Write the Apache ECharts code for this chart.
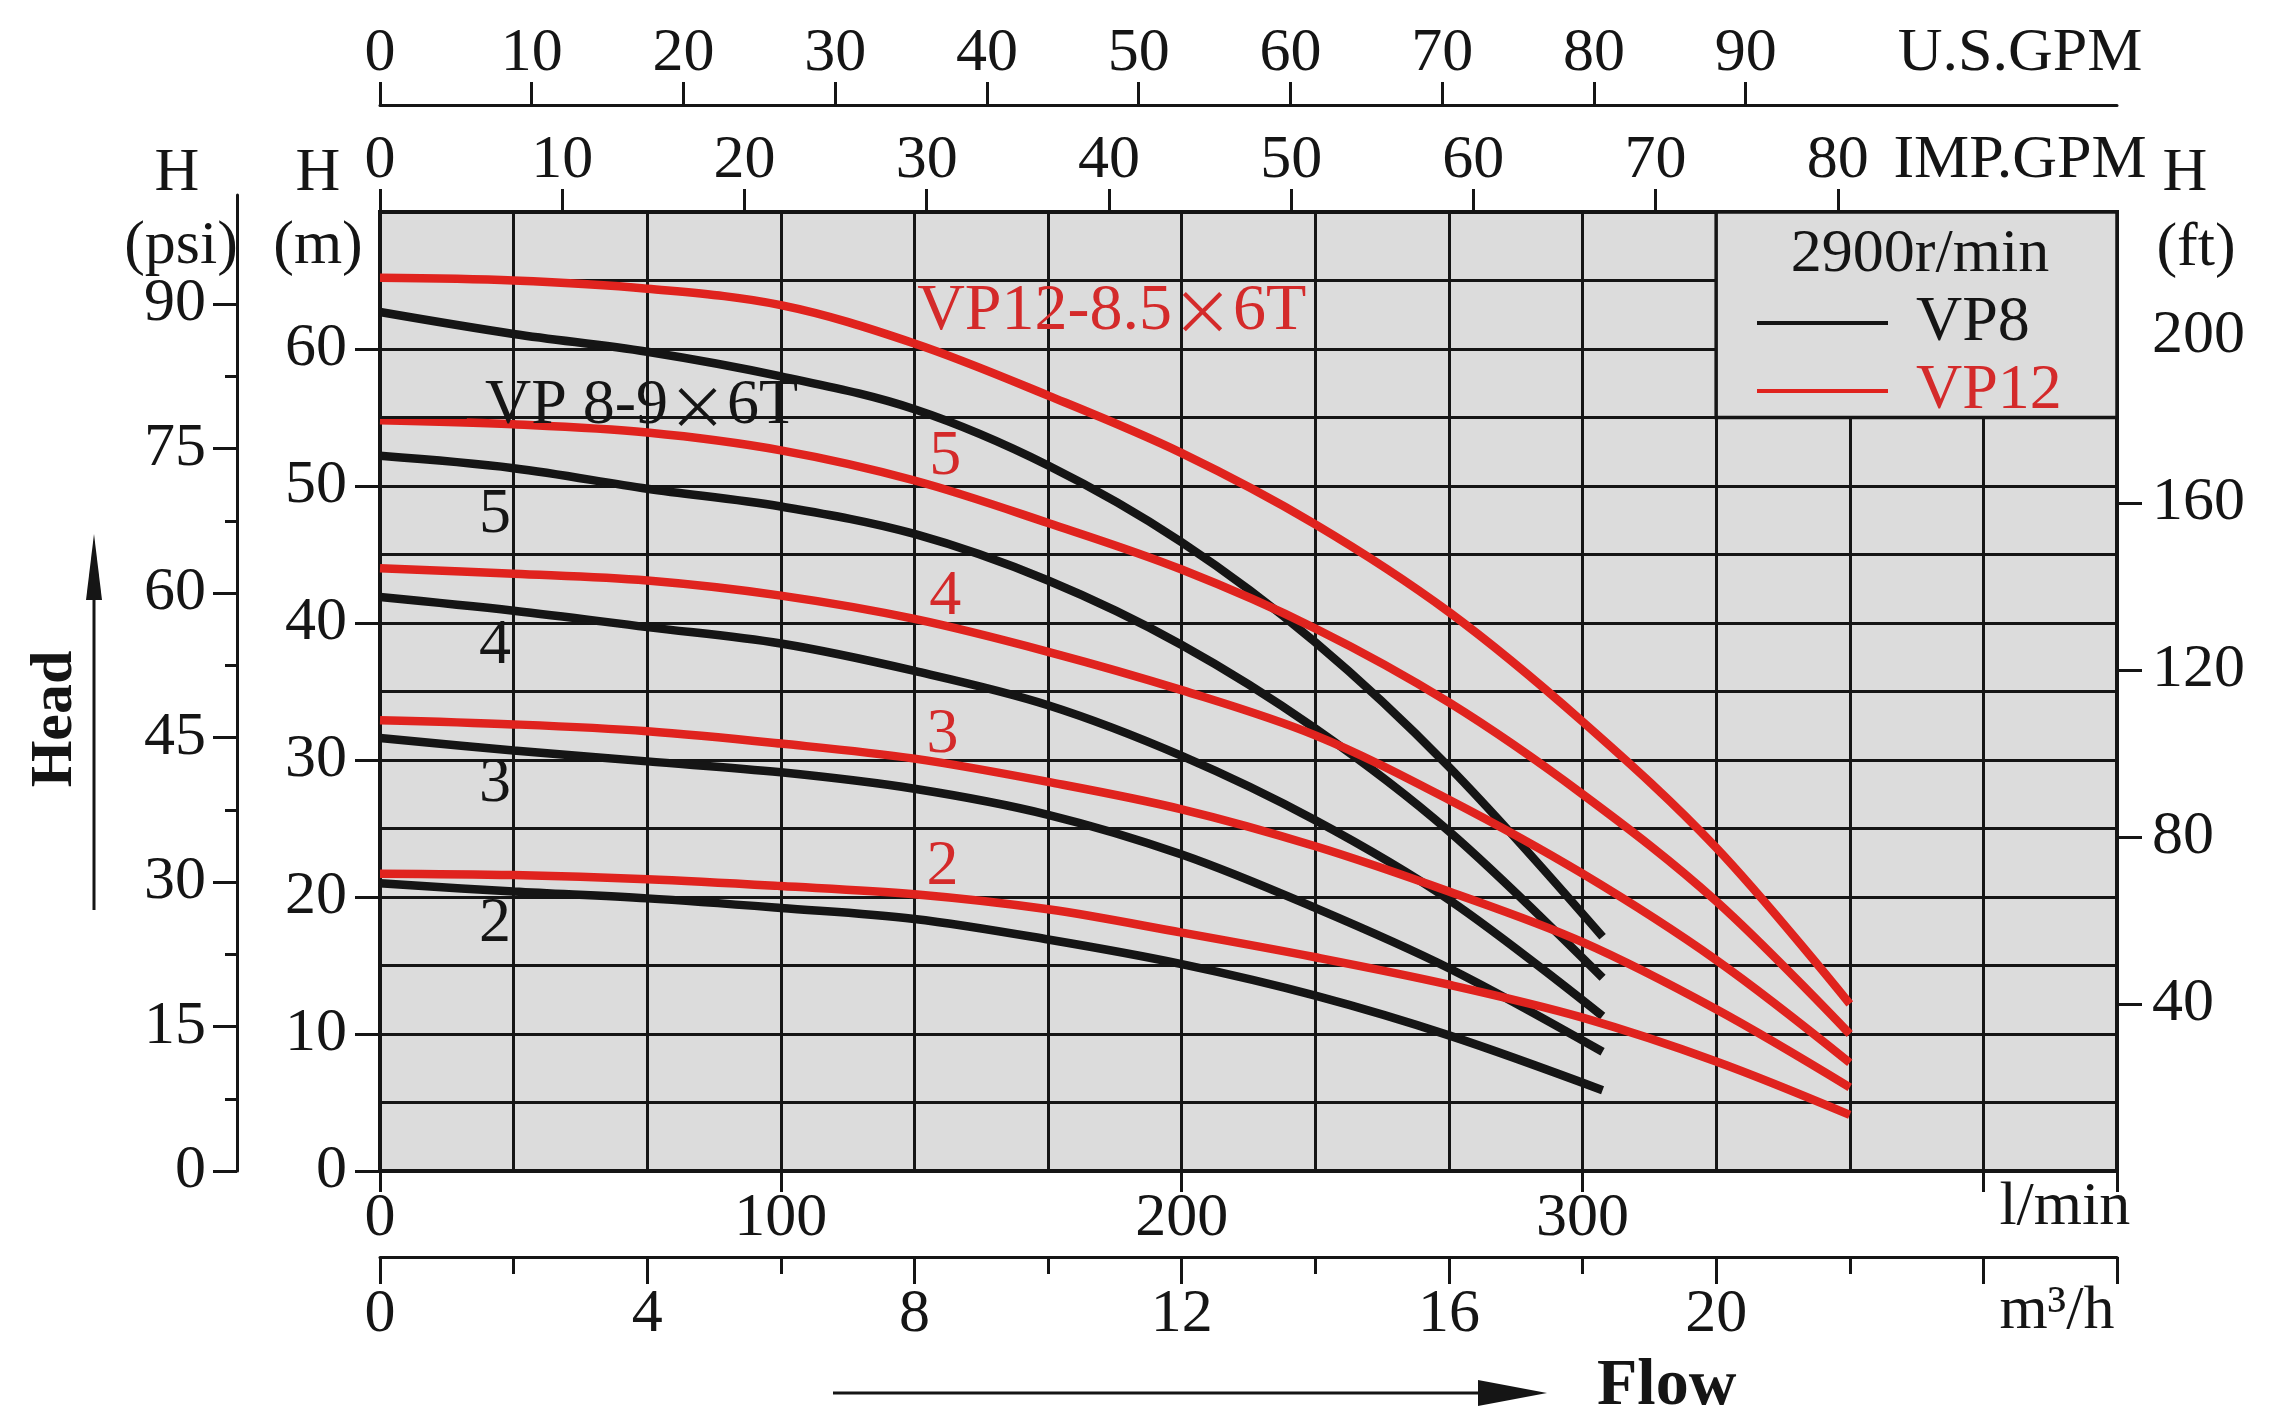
<!DOCTYPE html>
<html>
<head>
<meta charset="utf-8">
<script src="https://cdn.jsdelivr.net/npm/echarts@6.0.0/dist/echarts.min.js"></script>
<style>
  html, body { margin: 0; padding: 0; background: #ffffff; }
  #chart { width: 2294px; height: 1423px; }
</style>
</head>
<body>
<div id="chart"></div>
<script>
// ---------------- data (flow in m³/h, head in m) ----------------
const flowVP8 = [0, 2, 4, 6, 8, 10, 12, 14, 16, 18.3];
const vp8_6T = [62.7, 61.1, 59.8, 58.0, 55.6, 51.5, 45.9, 38.6, 29.5, 17.1];
const vp8_5  = [52.2, 51.3, 49.8, 48.5, 46.5, 43.1, 38.4, 32.3, 24.8, 14.1];
const vp8_4  = [41.9, 40.9, 39.7, 38.5, 36.5, 34.0, 30.3, 25.6, 19.8, 11.3];
const vp8_3  = [31.6, 30.7, 29.9, 29.1, 27.9, 26.0, 23.1, 19.2, 14.8, 8.7];
const vp8_2  = [21.0, 20.4, 19.9, 19.2, 18.4, 16.9, 15.1, 12.8, 9.9, 5.9];

const flowVP12 = [0, 2, 4, 6, 8, 10, 12, 14, 16, 18, 20, 22];
const vp12_6T = [65.2, 65.0, 64.4, 63.2, 60.4, 56.6, 52.4, 47.2, 40.8, 32.8, 23.6, 12.2];
const vp12_5  = [54.8, 54.5, 53.9, 52.6, 50.4, 47.3, 43.9, 39.6, 34.2, 27.5, 19.7, 10.0];
const vp12_4  = [44.0, 43.6, 43.1, 42.0, 40.3, 37.9, 35.1, 31.8, 27.1, 21.7, 15.4, 7.9];
const vp12_3  = [32.9, 32.6, 32.1, 31.2, 30.1, 28.4, 26.4, 23.7, 20.4, 16.7, 11.8, 6.1];
const vp12_2  = [21.7, 21.6, 21.3, 20.8, 20.2, 19.1, 17.4, 15.6, 13.6, 11.2, 8.0, 4.1];

// curve annotations: [text, flow m³/h, head m]
const vp8StageLabels  = [['5', 1.72, 47.9], ['4', 1.72, 38.3], ['3', 1.72, 28.2], ['2', 1.72, 18.0]];
const vp12StageLabels = [['5', 8.46, 52.1], ['4', 8.46, 41.9], ['3', 8.42, 31.8], ['2', 8.42, 22.2]];
const vp8ModelLabel  = ['VP 8-9{x|×}6T', 1.57, 55.8];
const vp12ModelLabel = ['VP12-8.5{x|×}6T', 8.04, 62.7];
const vp8Leaders = [[[0, 55.0], [1.3, 55.0]], [[6.3, 55.0], [8.05, 55.0]]];
const legendBox = [[20, 55], [26, 70]];

// tick labels
const mTicks = [0, 10, 20, 30, 40, 50, 60];
const psiLabels = [0, 15, 30, 45, 60, 75, 90];
const psiMinor = [7.5, 22.5, 37.5, 52.5, 67.5, 82.5];
const ftLabels = [40, 80, 120, 160, 200];
const ftTicks = [40, 80, 120, 160];
const impTicks = [0, 10, 20, 30, 40, 50, 60, 70, 80];
const usTicks = [0, 10, 20, 30, 40, 50, 60, 70, 80, 90];
const lpmLabels = [0, 100, 200, 300];
const m3hLabels = [0, 4, 8, 12, 16, 20];

// ---------------- unit conversions ----------------
const LPM = 1000 / 60;        // l/min per m³/h
const IMP = 4.54609, USG = 3.78541, PSI_M = 0.70307, FT_M = 0.3048;
const X_MAX = 26, Y_MAX = 70;

const FONT = '"Liberation Serif","Times New Roman",serif';
const CJK = '"Noto Sans CJK SC","Noto Sans CJK JP",sans-serif';
const BLACK = '#151515', RED = '#e0231e', RED_TEXT = '#d42a2a', BG = '#dcdcdc';

const G = { left: 380, top: 212, width: 1737, height: 959 };

const lbl = (extra) => Object.assign({ fontFamily: FONT, fontSize: 62, color: BLACK }, extra);
const tickStyle = { color: BLACK, width: 3 };
const noLine = { show: false, onZero: false };
const gridBase = { containLabel: false, outerBoundsMode: 'none' };

function curve(name, flows, heads, color) {
  return {
    type: 'line', name: name, xAxisIndex: 0, yAxisIndex: 0,
    data: flows.map((q, i) => [q, heads[i]]),
    smooth: 0.35, symbol: 'none', showSymbol: false,
    lineStyle: { color: color, width: 8.5 },
    itemStyle: { color: color },
    emphasis: { disabled: true }, silent: true, z: 3
  };
}
function labelSeries(name, items, color, size, pos) {
  return {
    type: 'scatter', name: name, xAxisIndex: 0, yAxisIndex: 0,
    data: items.map(d => ({ value: [d[1], d[2]], name: d[0] })),
    symbolSize: 0.1, itemStyle: { color: 'rgba(0,0,0,0)', opacity: 1 },
    emphasis: { disabled: true }, silent: true, z: 4,
    label: { show: true, position: pos, distance: 0, formatter: p => p.name, opacity: 1,
             fontFamily: FONT, fontSize: size, color: color,
             rich: { x: { fontFamily: CJK, fontSize: Math.round(size * 0.92), color: color } } }
  };
}

const chart = echarts.init(document.getElementById('chart'), null, { renderer: 'canvas' });

const option = {
  animation: false,
  backgroundColor: '#ffffff',
  grid: [
    Object.assign({ show: true, backgroundColor: BG, borderColor: BLACK, borderWidth: 4 }, gridBase, G), // 0 main
    Object.assign({ left: G.left, width: G.width, top: 105, height: 1 }, gridBase),                      // 1 US GPM
    Object.assign({ left: G.left, width: G.width, top: 1256, height: 1 }, gridBase),                     // 2 m³/h
    Object.assign({ left: 237, width: 1, top: 195, height: 976 }, gridBase),                             // 3 psi
    Object.assign({ left: G.left, width: G.width, top: G.top, height: 1 }, gridBase),                    // 4 IMP GPM
    Object.assign({ left: G.left + G.width - 1, width: 1, top: G.top, height: G.height }, gridBase)      // 5 ft
  ],
  xAxis: [
    { gridIndex: 0, type: 'value', position: 'bottom', min: 0, max: X_MAX, interval: 2,
      axisLine: noLine, axisTick: { show: false }, axisLabel: { show: false },
      splitLine: { show: true, lineStyle: { color: BLACK, width: 3 } } },
    { gridIndex: 0, type: 'value', position: 'bottom', min: 0, max: X_MAX * LPM, interval: 100,
      axisLine: { show: true, onZero: false, lineStyle: { color: BLACK, width: 4 } },
      axisTick: { show: true, length: 21, lineStyle: tickStyle },
      axisLabel: lbl({ margin: 17, customValues: lpmLabels }),
      splitLine: { show: false } },
    { gridIndex: 4, type: 'value', position: 'top', min: 0, max: X_MAX * LPM / IMP, interval: 10,
      axisLine: noLine,
      axisTick: { show: true, length: 23, customValues: impTicks, lineStyle: tickStyle },
      axisLabel: lbl({ margin: 20, customValues: impTicks.concat([90]),
                       formatter: v => (v === 90 ? 'IMP.GPM' : String(v)) }),
      splitLine: { show: false } },
    { gridIndex: 1, type: 'value', position: 'top', min: 0, max: X_MAX * LPM / USG, interval: 10,
      axisLine: { show: true, onZero: false, lineStyle: { color: BLACK, width: 3 } },
      axisTick: { show: true, length: 23, customValues: usTicks, lineStyle: tickStyle },
      axisLabel: lbl({ margin: 20, customValues: usTicks.concat([90 * IMP / USG]),
                       formatter: v => (v > 95 ? 'U.S.GPM' : String(v)) }),
      splitLine: { show: false } },
    { gridIndex: 2, type: 'value', position: 'bottom', min: 0, max: X_MAX, interval: 4,
      axisLine: { show: true, onZero: false, lineStyle: { color: BLACK, width: 3 } },
      axisTick: { show: true, length: 27, lineStyle: tickStyle },
      axisLabel: lbl({ margin: 27, customValues: m3hLabels }),
      splitLine: { show: false } },
    { gridIndex: 2, type: 'value', position: 'bottom', min: 0, max: X_MAX, interval: 2,
      axisLine: noLine, axisTick: { show: true, length: 17, lineStyle: tickStyle },
      axisLabel: { show: false }, splitLine: { show: false } },
    { gridIndex: 3, type: 'value', show: false, min: 0, max: 1 },
    { gridIndex: 5, type: 'value', show: false, min: 0, max: 1 }
  ],
  yAxis: [
    { gridIndex: 0, type: 'value', position: 'left', min: 0, max: Y_MAX, interval: 5,
      axisLine: noLine, axisTick: { show: false }, axisLabel: { show: false },
      splitLine: { show: true, lineStyle: { color: BLACK, width: 3 } } },
    { gridIndex: 0, type: 'value', position: 'left', min: 0, max: Y_MAX, interval: 10,
      axisLine: { show: true, onZero: false, lineStyle: { color: BLACK, width: 4 } },
      axisTick: { show: true, length: 25, customValues: mTicks, lineStyle: tickStyle },
      axisLabel: lbl({ margin: 33, customValues: mTicks }),
      splitLine: { show: false } },
    { gridIndex: 5, type: 'value', position: 'right', min: 0, max: Y_MAX / FT_M, interval: 40,
      axisLine: noLine,
      axisTick: { show: true, length: 25, customValues: ftTicks, lineStyle: tickStyle },
      axisLabel: lbl({ margin: 35, customValues: ftLabels }),
      splitLine: { show: false } },
    { gridIndex: 1, type: 'value', show: false, min: 0, max: 1 },
    { gridIndex: 2, type: 'value', show: false, min: 0, max: 1 },
    { gridIndex: 3, type: 'value', position: 'left', min: 0, max: (976 / 959) * Y_MAX / PSI_M, interval: 15,
      axisLine: { show: true, onZero: false, lineStyle: { color: BLACK, width: 3 } },
      axisTick: { show: true, length: 24, customValues: psiLabels, lineStyle: tickStyle },
      axisLabel: lbl({ margin: 31, customValues: psiLabels }),
      splitLine: { show: false } },
    { gridIndex: 3, type: 'value', position: 'left', min: 0, max: (976 / 959) * Y_MAX / PSI_M, interval: 7.5,
      axisLine: noLine,
      axisTick: { show: true, length: 12, customValues: psiMinor, lineStyle: tickStyle },
      axisLabel: { show: false }, splitLine: { show: false } },
    { gridIndex: 4, type: 'value', show: false, min: 0, max: 1 }
  ],
  legend: {
    show: true, orient: 'vertical', left: 1757, top: 291, padding: 0,
    itemWidth: 131, itemHeight: 4, itemGap: 4, icon: 'rect', selectedMode: false,
    formatter: n => n.split(' ')[0],
    textStyle: { fontFamily: FONT, fontSize: 64, lineHeight: 52, padding: [0, 0, 0, 23] },
    data: [
      { name: 'VP8 6T', textStyle: { color: BLACK } },
      { name: 'VP12 6T', textStyle: { color: RED_TEXT } }
    ]
  },
  series: [
    Object.assign(curve('VP8 2', flowVP8, vp8_2, BLACK), {
      markArea: { silent: true, itemStyle: { color: BG, borderColor: BLACK, borderWidth: 3.5 },
                  data: [[{ coord: legendBox[0] }, { coord: legendBox[1] }]] }
    }),
    curve('VP8 3', flowVP8, vp8_3, BLACK),
    curve('VP8 4', flowVP8, vp8_4, BLACK),
    curve('VP8 5', flowVP8, vp8_5, BLACK),
    curve('VP8 6T', flowVP8, vp8_6T, BLACK),
    curve('VP12 2', flowVP12, vp12_2, RED),
    curve('VP12 3', flowVP12, vp12_3, RED),
    curve('VP12 4', flowVP12, vp12_4, RED),
    curve('VP12 5', flowVP12, vp12_5, RED),
    curve('VP12 6T', flowVP12, vp12_6T, RED),
    labelSeries('vp8 stages', vp8StageLabels, BLACK, 64, 'inside'),
    labelSeries('vp12 stages', vp12StageLabels, RED_TEXT, 64, 'inside'),
    labelSeries('vp12 model', [vp12ModelLabel], RED_TEXT, 66, 'right'),
    Object.assign(labelSeries('vp8 model', [vp8ModelLabel], BLACK, 64, 'right'), {
      markLine: { silent: true, symbol: 'none', label: { show: false },
                  lineStyle: { color: BLACK, width: 3, type: 'solid' },
                  data: vp8Leaders.map(seg => [{ coord: seg[0] }, { coord: seg[1] }]) }
    })
  ]
};

chart.setOption(option);

// ---------------- axis names, units, arrows ----------------
const t = (text, x, y, opts) => ({
  type: 'text', x: x, y: y, silent: true, z: 10,
  style: Object.assign({ text: text, fill: BLACK, fontFamily: FONT, fontSize: 62,
                         align: 'center', verticalAlign: 'middle' }, opts || {})
});
const lpm400 = chart.convertToPixel({ xAxisIndex: 1 }, 400);
const m3h24 = chart.convertToPixel({ xAxisIndex: 4 }, 24);

chart.setOption({
  graphic: [
    t('H', 177, 174), t('(psi)', 181, 247),
    t('H', 318, 174), t('(m)', 318, 247),
    t('H', 2185, 174), t('(ft)', 2196, 249),
    t('2900r/min', 1920, 255),
    t('l/min', lpm400 + 16, 1208, { align: 'left' }),
    t('m³/h', m3h24 + 16, 1312, { align: 'left' }),
    Object.assign(t('Head', 55, 719, { fontWeight: 'bold', fontSize: 60 }), { rotation: Math.PI / 2 }),
    t('Flow', 1597, 1387, { align: 'left', fontWeight: 'bold', fontSize: 66 }),
    { type: 'line', silent: true, shape: { x1: 94, y1: 910, x2: 94, y2: 590 }, style: { stroke: BLACK, lineWidth: 3 } },
    { type: 'polygon', silent: true, shape: { points: [[94, 534], [86, 600], [102, 600]] }, style: { fill: BLACK } },
    { type: 'line', silent: true, shape: { x1: 833, y1: 1393, x2: 1500, y2: 1393 }, style: { stroke: BLACK, lineWidth: 3 } },
    { type: 'polygon', silent: true, shape: { points: [[1547, 1393], [1478, 1380], [1478, 1406]] }, style: { fill: BLACK } }
  ]
});
</script>
</body>
</html>
